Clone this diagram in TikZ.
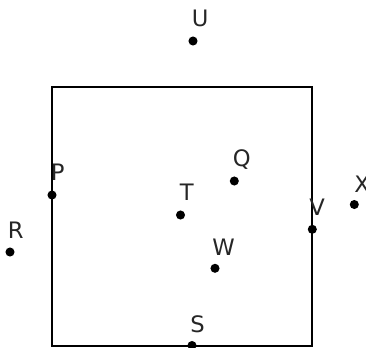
\documentclass[tikz,border=0pt]{standalone}
\usepackage{fontspec}
\setmainfont{DejaVu Sans}
\begin{document}
\begin{tikzpicture}[x=0.75pt,y=-0.75pt,
  pt/.style={circle,fill=black,inner sep=0pt,minimum size=6.8pt},
  lbl/.style={anchor=base west,inner sep=0pt,font=\fontsize{17}{19}\selectfont,text=black!85},
  edge/.style={line width=1.2pt,black}]
\useasboundingbox (0,0) rectangle (366,347);
% square corners
\coordinate (A) at (52,87);
\coordinate (B) at (312,87);
\coordinate (C) at (312,346);
\coordinate (D) at (52,346);
\draw[edge] (A) -- (B) -- (C) -- (D) -- cycle;
% points
\node[pt] (U) at (193,41) {};
\node[pt] (P) at (52,195) {};
\node[pt] (T) at (180.5,215) {};
\node[pt] (R) at (10,252) {};
\node[pt] (S) at (192,345.5) {};
\node[pt] (Q) at (234.3,181) {};
\node[pt] (V) at (312.3,229.3) {};
\node[pt] (X) at (354.3,204.5) {};
\node[pt] (W) at (215,268.3) {};
% labels
\node[lbl] (lU) at (191.5,26.5) {U};
\node[lbl] (lP) at (50.5,180) {P};
\node[lbl] (lT) at (179.5,200) {T};
\node[lbl] (lR) at (7.5,238) {R};
\node[lbl] (lS) at (190,332) {S};
\node[lbl] (lQ) at (232.5,166.5) {Q};
\node[lbl] (lV) at (309,215) {V};
\node[lbl] (lX) at (354,192) {X};
\node[lbl] (lW) at (212,255) {W};
\end{tikzpicture}
\end{document}
